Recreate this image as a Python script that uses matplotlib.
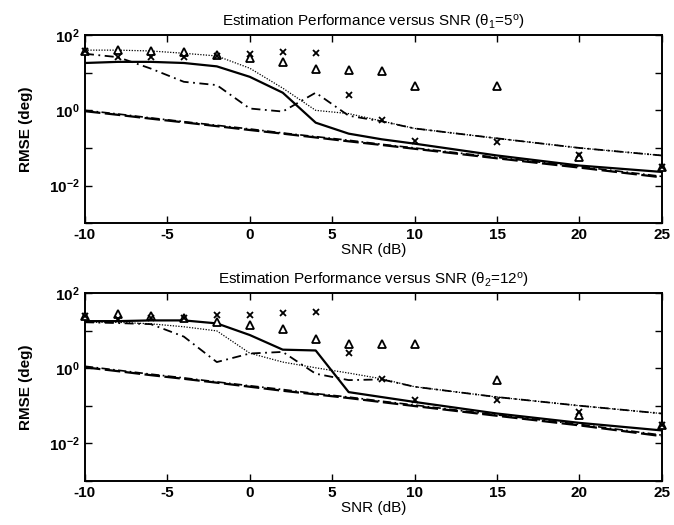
import numpy as np
import matplotlib
matplotlib.use('Agg')
from matplotlib import pyplot as plt
from matplotlib.ticker import NullFormatter, FixedLocator

plt.rcParams['font.family'] = ['Liberation Sans', 'DejaVu Sans']
plt.rcParams['mathtext.fontset'] = 'custom'
plt.rcParams['mathtext.rm'] = 'Liberation Sans'
plt.rcParams['mathtext.it'] = 'Liberation Sans'
plt.rcParams['mathtext.bf'] = 'Liberation Sans:bold'

snr = [-10, -8, -6, -4, -2, 0, 2, 4, 6, 8, 10, 15, 20, 25]

# panel 1 (theta1 = 5 deg)
solid_1 = [18.2, 19.5, 19.5, 18.2, 14.8, 7.8, 2.95, 0.47, 0.24, 0.17, 0.13, 0.063, 0.034, 0.023]
dotted_1 = [40, 40, 38, 33, 28, 13.2, 3.9, 1.0, 0.82, 0.52, 0.33, 0.18, 0.10, 0.063]
dashdot_1 = [32, 26, 12.9, 5.75, 4.7, 1.12, 0.93, 2.95, 0.72, 0.51, 0.33, 0.18, 0.10, 0.063]
dashed_1 = [0.95, 0.76, 0.60, 0.48, 0.38, 0.30, 0.24, 0.19, 0.15, 0.12, 0.095, 0.053, 0.030, 0.0165]
lowdd_1 = [1.0, 0.80, 0.63, 0.50, 0.40, 0.32, 0.25, 0.20, 0.16, 0.125, 0.10, 0.056, 0.032, 0.0175]
tri_1 = [37, 40, 38, 35.5, 30, 25, 19.5, 12.9, 11.7, 11, 4.5, 4.5, 0.057, 0.031]
cross_1 = [37, 26, 26, 26, 28, 32, 36, 34, 2.5, 0.54, 0.15, 0.145, 0.063, 0.031]

# panel 2 (theta2 = 12 deg)
solid_2 = [17.8, 17.8, 18.6, 18.6, 15.5, 7.6, 3.1, 2.95, 0.23, 0.17, 0.126, 0.062, 0.035, 0.022]
dotted_2 = [16.6, 16.6, 15.1, 12.6, 9.8, 2.5, 1.45, 1.02, 0.74, 0.52, 0.32, 0.17, 0.10, 0.062]
dashdot_2 = [16.6, 15.8, 14.8, 6.9, 1.45, 2.45, 2.7, 0.71, 0.48, 0.50, 0.32, 0.17, 0.10, 0.062]
dashed_2 = [1.05, 0.83, 0.65, 0.52, 0.41, 0.32, 0.25, 0.20, 0.16, 0.125, 0.098, 0.054, 0.030, 0.0155]
lowdd_2 = [1.12, 0.88, 0.69, 0.55, 0.43, 0.34, 0.27, 0.21, 0.17, 0.132, 0.104, 0.057, 0.032, 0.0165]
tri_2 = [24, 27, 24, 21, 17, 13.8, 10.7, 5.9, 4.3, 4.5, 4.5, 0.49, 0.055, 0.03]
cross_2 = [24, 20, 21, 22, 26, 26, 29.5, 31.6, 2.6, 0.52, 0.138, 0.138, 0.068, 0.03]

titles = ['Estimation Performance versus SNR (\u03b8$_1$=5$^\\mathrm{o}$)',
          'Estimation Performance versus SNR (\u03b8$_2$=12$^\\mathrm{o}$)']
xticks = [-10, -5, 0, 5, 10, 15, 20, 25]
ytick_vals = [1e-2, 1e0, 1e2]
ytick_labels = ['$\\mathbf{10^{-2}}$', '$\\mathbf{10^{0}}$', '$\\mathbf{10^{2}}$']

panels = [
    (solid_1, dotted_1, dashdot_1, dashed_1, lowdd_1, tri_1, cross_1),
    (solid_2, dotted_2, dashdot_2, dashed_2, lowdd_2, tri_2, cross_2),
]

fig = plt.figure(figsize=(6.74, 5.25), dpi=100)
boxes = [[0.126, 0.575, 0.856, 0.358], [0.126, 0.084, 0.856, 0.358]]

for i, (solid, dotted, dashdot, dashed, lowdd, tri, cross) in enumerate(panels):
    ax = fig.add_axes(boxes[i])
    ax.plot(snr, dashed, color='k', lw=1.6, ls=(0, (7, 2)))
    ax.plot(snr, lowdd, color='k', lw=1.2, ls=(0, (5, 2, 1, 2)))
    ax.plot(snr, dashdot, color='k', lw=1.3, ls=(0, (5, 2.5, 1, 2.5)))
    ax.plot(snr, dotted, color='k', lw=0.9, ls=(0, (1, 1.2)))
    ax.plot(snr, solid, color='k', lw=1.6, ls='-')
    ax.plot(snr, tri, ls='none', marker='^', ms=5.5, mfc='white', mec='k',
            mew=1.3, clip_on=False, zorder=5)
    ax.plot(snr, cross, ls='none', marker='x', ms=4.5, mec='k', mew=1.3,
            clip_on=False, zorder=6)

    ax.set_yscale('log')
    ax.set_xlim(-10, 25)
    ax.set_ylim(1e-3, 1e2)
    ax.set_xticks(xticks)
    ax.set_xticklabels([str(t) for t in xticks], fontweight='bold')
    ax.yaxis.set_major_locator(FixedLocator(ytick_vals))
    ax.set_yticklabels(ytick_labels)
    ax.yaxis.set_minor_locator(FixedLocator([1e-3, 1e-1, 1e1]))
    ax.yaxis.set_minor_formatter(NullFormatter())
    ax.tick_params(which='both', direction='in', top=True, right=True,
                   labelsize=11, width=1, length=5)
    for s in ax.spines.values():
        s.set_linewidth(1.4)
    ax.set_title(titles[i], fontsize=11, pad=6)
    ax.set_xlabel('SNR (dB)', fontsize=11, labelpad=1)
    ax.set_ylabel('RMSE (deg)', fontsize=11, fontweight='bold', labelpad=12)

fig.savefig('out.png', dpi=100)
